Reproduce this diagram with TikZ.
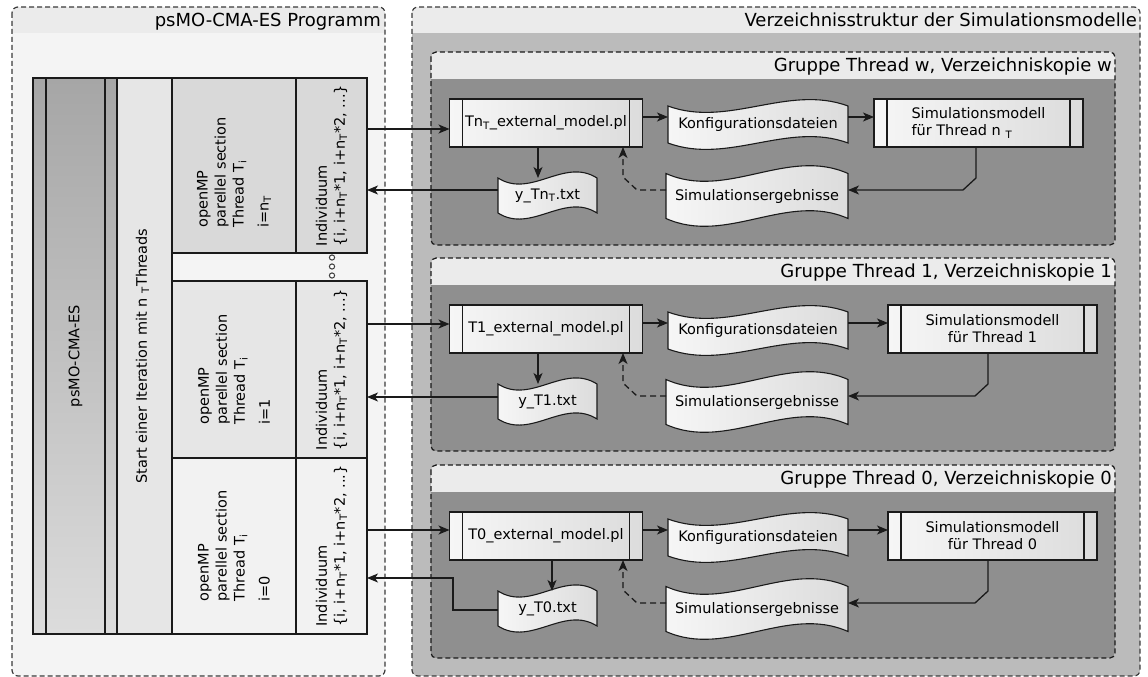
\documentclass[tikz,border=0pt]{standalone}
\usepackage{fontspec}
\setmainfont{DejaVu Sans}
\usetikzlibrary{arrows.meta,calc}

\definecolor{linec}{HTML}{1A1A1A}
\definecolor{borderc}{HTML}{3A3A3A}
\definecolor{panelhead}{HTML}{EBEBEB}
\definecolor{leftbody}{HTML}{F4F4F4}
\definecolor{rightbody}{HTML}{BBBBBB}
\definecolor{groupbody}{HTML}{8F8F8F}
\definecolor{colTop}{HTML}{A6A6A6}
\definecolor{colBot}{HTML}{DCDCDC}
\definecolor{startfill}{HTML}{E6E6E6}
\definecolor{rowW}{HTML}{D9D9D9}
\definecolor{rowOne}{HTML}{E6E6E6}
\definecolor{rowZero}{HTML}{F2F2F2}
\definecolor{shadeL}{HTML}{F6F6F6}
\definecolor{shadeR}{HTML}{DCDCDC}

\newcommand\fs{\fontsize{14.5}{17}\selectfont}
\newcommand\fv{\fontsize{14.5}{18}\selectfont}
\newcommand\fh{\fontsize{18}{21}\selectfont}

% wavy "file" outline with its label node on top
\newcommand\tapenode[6]{%
  \path[tapefill] ({#2-#4/2},{#3-#5/2})
     .. controls ({#2-#4/6},{#3-#5/2+0.6*#5}) and ({#2+#4/6},{#3-#5/2-0.6*#5}) .. ({#2+#4/2},{#3-#5/2})
     -- ({#2+#4/2},{#3+#5/2})
     .. controls ({#2+#4/6},{#3+#5/2-0.6*#5}) and ({#2-#4/6},{#3+#5/2+0.6*#5}) .. ({#2-#4/2},{#3+#5/2})
     -- cycle;
  \node[tapetext, minimum width=#4pt, minimum height=#5pt] (#1) at (#2,#3) {#6};
}

% one thread group: id, top, heading, script, result file, model text, model centre x, model text alignment
\newcommand\simgroup[8]{%
  \begin{scope}
    \clip[rounded corners=5pt] (431,#2) rectangle (1115,{#2+193});
    \fill[groupbody] (431,#2) rectangle (1115,{#2+193});
    \fill[panelhead] (431,#2) rectangle (1115,{#2+27});
  \end{scope}
  \draw[groupborder] (431,#2) rectangle (1115,{#2+193});
  \node[headtext, anchor=base east] (head#1) at (1112,{#2+19}) {#3};
  \node[procbox, minimum width=193pt] (ext#1) at (546,{#2+71}) {#4};
  \tapenode{konf#1}{758}{#2+72.5}{180}{37}{Konfigurationsdateien}
  \node[procbox, minimum width=209pt, align=#8] (sim#1) at (#7,{#2+71}) {#6};
  \tapenode{erg#1}{757}{#2+144}{182}{45}{Simulationsergebnisse}
  \tapenode{ytxt#1}{547.5}{#2+143.5}{99}{35}{#5}
}

\begin{document}
\begin{tikzpicture}[x=1pt,y=-1pt,
  panelborder/.style={draw=borderc, line width=1.2pt, dash pattern=on 5pt off 3pt, rounded corners=6pt},
  groupborder/.style={draw=linec, line width=1.2pt, dash pattern=on 5pt off 3pt, rounded corners=5pt},
  headtext/.style={font=\fh, inner sep=0pt},
  cell/.style={draw=linec, line width=1.1pt, inner sep=0pt, outer sep=0pt},
  darkcol/.style={cell, top color=colTop, bottom color=colBot},
  vtext/.style={rotate=90, font=\fv, inner sep=0pt},
  procbox/.style={draw=linec, line width=1.1pt, left color=shadeL, right color=shadeR,
    minimum height=48pt, inner sep=0pt, outer sep=0pt, font=\fs,
    path picture={\draw[draw=linec, line width=1.1pt]
      ([xshift=13pt]path picture bounding box.north west) -- ([xshift=13pt]path picture bounding box.south west)
      ([xshift=-13pt]path picture bounding box.north east) -- ([xshift=-13pt]path picture bounding box.south east);}},
  tapefill/.style={draw=linec, line width=1.1pt, left color=shadeL, right color=shadeR},
  tapetext/.style={inner sep=0pt, outer sep=0pt, font=\fs},
  arr/.style={draw=linec, line width=1.3pt, -{Stealth[length=11pt,width=9pt,inset=3pt]}},
  dotc/.style={draw=borderc, line width=1pt, fill=white}
]
\useasboundingbox (0,0) rectangle (1148,677);

% ---------- left panel: program ----------
\begin{scope}
  \clip[rounded corners=6pt] (12,7) rectangle (385,676);
  \fill[leftbody] (12,7) rectangle (385,676);
  \fill[panelhead] (12,7) rectangle (385,33);
\end{scope}
\draw[panelborder] (12,7) rectangle (385,676);
\node[headtext, anchor=base east] (lefthead) at (381,26.5) {psMO-CMA-ES Programm};

% ---------- right panel: directory structure ----------
\begin{scope}
  \clip[rounded corners=6pt] (412,7) rectangle (1140,676);
  \fill[rightbody] (412,7) rectangle (1140,676);
  \fill[panelhead] (412,7) rectangle (1140,33);
\end{scope}
\draw[panelborder] (412,7) rectangle (1140,676);
\node[headtext, anchor=base east] (righthead) at (1137,26.5) {Verzeichnisstruktur der Simulationsmodelle};

% ---------- program columns ----------
\node[darkcol, minimum width=13pt, minimum height=556pt] (colA) at (39.5,356) {};
\node[darkcol, minimum width=59pt, minimum height=556pt] (colB) at (75.5,356) {};
\node[darkcol, minimum width=12pt, minimum height=556pt] (colC) at (111,356) {};
\node[vtext] (mainlabel) at (colB) {psMO-CMA-ES};
\node[cell, fill=startfill, minimum width=55pt, minimum height=556pt] (startcol) at (144.5,356) {};
\node[vtext] (startlabel) at ([xshift=-2pt]startcol.center) {Start einer Iteration mit n \textsubscript{T}Threads};

% thread rows
\node[cell, fill=rowW, minimum width=124pt, minimum height=175pt] (ompw) at (234,165.5) {};
\node[cell, fill=rowW, minimum width=71pt, minimum height=175pt] (indw) at (331.5,165.5) {};
\node[cell, fill=rowOne, minimum width=124pt, minimum height=177pt] (omp1) at (234,369.5) {};
\node[cell, fill=rowOne, minimum width=71pt, minimum height=177pt] (ind1) at (331.5,369.5) {};
\node[cell, fill=rowZero, minimum width=124pt, minimum height=176pt] (omp0) at (234,546) {};
\node[cell, fill=rowZero, minimum width=71pt, minimum height=176pt] (ind0) at (331.5,546) {};

\node[vtext, align=left] (ompwtext) at ([yshift=-7pt]ompw.center) {openMP\\parellel section\\Thread T\textsubscript{i}\\[7pt]i=n\textsubscript{T}};
\node[vtext, align=left] (omp1text) at (omp1) {openMP\\parellel section\\Thread T\textsubscript{i}\\[7pt]i=1};
\node[vtext, align=left] (omp0text) at (omp0) {openMP\\parellel section\\Thread T\textsubscript{i}\\[7pt]i=0};
\node[vtext, align=left] (indwtext) at (indw) {Individuum\\\{i, i+n\textsubscript{T}*1, i+n\textsubscript{T}*2, ...\}};
\node[vtext, align=left] (ind1text) at (ind1) {Individuum\\\{i, i+n\textsubscript{T}*1, i+n\textsubscript{T}*2, ...\}};
\node[vtext, align=left] (ind0text) at (ind0) {Individuum\\\{i, i+n\textsubscript{T}*1, i+n\textsubscript{T}*2, ...\}};

% ellipsis between the rows
\draw[dotc] (332,257.5) circle (2.6pt);
\draw[dotc] (332,266.5) circle (2.6pt);
\draw[dotc] (332,275.5) circle (2.6pt);

% ---------- thread groups ----------
\simgroup{w}{52}{Gruppe Thread w, Verzeichniskopie w}{Tn\textsubscript{T}\_external\_model.pl}{y\_Tn\textsubscript{T}.txt}{Simulationsmodell\\für Thread n \textsubscript{T}}{978.5}{left}
\simgroup{1}{258}{Gruppe Thread 1, Verzeichniskopie 1}{T1\_external\_model.pl}{y\_T1.txt}{Simulationsmodell\\für Thread 1}{992.5}{center}
\simgroup{0}{465}{Gruppe Thread 0, Verzeichniskopie 0}{T0\_external\_model.pl}{y\_T0.txt}{Simulationsmodell\\für Thread 0}{992.5}{center}

% ---------- connectors, group w ----------
\path ([yshift=-6pt]extw.west) coordinate (inw);
\draw[arr] (inw -| indw.east) -- (inw);
\path ([yshift=6pt]extw.east) coordinate (cw);
\draw[arr] (cw) -- (cw -| konfw.west);
\draw[arr] (cw -| konfw.east) -- (cw -| simw.west);
\draw[arr] ([xshift=-8pt]extw.south) coordinate (dw) -- (dw |- ytxtw.north);
\path ([yshift=6pt]ergw.east) coordinate (ew);
\draw[arr] ([xshift=-2.5pt]simw.south) -- ++(0,31) -- ++(-13,12) -- (ew);
\draw[arr, dash pattern=on 6pt off 4pt] ([yshift=6pt]ergw.west) -- ++(-29,0) -- ++(-14,-13) coordinate (bw) -- (bw |- extw.south);
\draw[arr] ([yshift=5.5pt]ytxtw.west) coordinate (rw) -- (rw -| indw.east);

% ---------- connectors, group 1 ----------
\path ([yshift=5pt]ext1.west) coordinate (in1);
\draw[arr] (in1 -| ind1.east) -- (in1);
\path ([yshift=6pt]ext1.east) coordinate (c1);
\draw[arr] (c1) -- (c1 -| konf1.west);
\draw[arr] (c1 -| konf1.east) -- (c1 -| sim1.west);
\draw[arr] ([xshift=-8pt]ext1.south) coordinate (d1) -- (d1 |- ytxt1.north);
\path ([yshift=6pt]erg1.east) coordinate (e1);
\draw[arr] ([xshift=-4.5pt]sim1.south) -- ++(0,31) -- ++(-13,12) -- (e1);
\draw[arr, dash pattern=on 6pt off 4pt] ([yshift=6pt]erg1.west) -- ++(-29,0) -- ++(-14,-13) coordinate (b1) -- (b1 |- ext1.south);
\draw[arr] ([yshift=4.5pt]ytxt1.west) coordinate (r1) -- (r1 -| ind1.east);

% ---------- connectors, group 0 ----------
\path ([yshift=6pt]ext0.west) coordinate (in0);
\draw[arr] (in0 -| ind0.east) -- (in0);
\path ([yshift=6pt]ext0.east) coordinate (c0);
\draw[arr] (c0) -- (c0 -| konf0.west);
\draw[arr] (c0 -| konf0.east) -- (c0 -| sim0.west);
\draw[arr] ([xshift=6pt]ext0.south) coordinate (d0) -- (d0 |- ytxt0.north);
\path ([yshift=6pt]erg0.east) coordinate (e0);
\draw[arr] ([xshift=-4.5pt]sim0.south) -- ++(0,31) -- ++(-13,12) -- (e0);
\draw[arr, dash pattern=on 6pt off 4pt] ([yshift=6pt]erg0.west) -- ++(-29,0) -- ++(-14,-13) coordinate (b0) -- (b0 |- ext0.south);
\draw[arr] ([yshift=-1.5pt]ytxt0.west) -- ++(-45,0) -- ++(0,-32) coordinate (r0) -- (r0 -| ind0.east);

\end{tikzpicture}
\end{document}
